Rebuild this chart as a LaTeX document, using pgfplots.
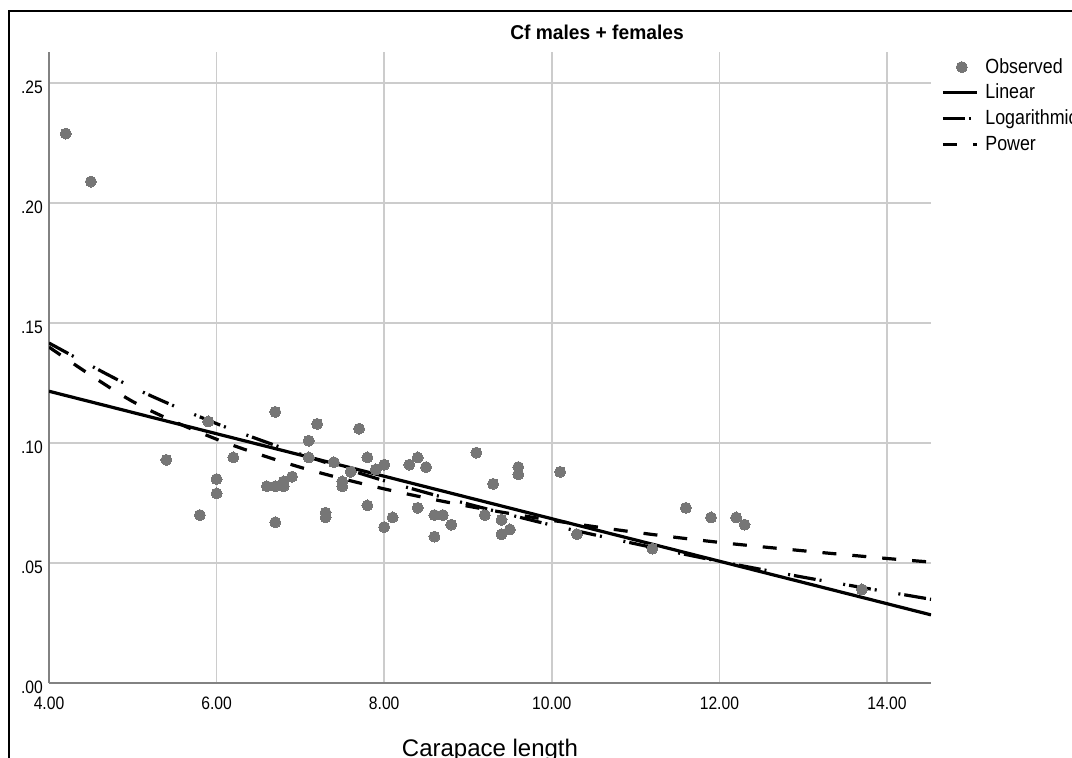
\documentclass[border=0pt]{standalone}
\usepackage{pgfplots}
\pgfplotsset{compat=1.18}
\usepackage{fontspec}
\setmainfont{Liberation Sans}
\newfontfamily\narrowfont[FakeStretch=0.87]{Liberation Sans}
\newfontfamily\titlefont[FakeStretch=0.96]{Liberation Sans Bold}
\definecolor{obsgray}{RGB}{118,118,118}
\definecolor{gridgray}{RGB}{204,204,204}
\definecolor{axisgray}{RGB}{130,130,130}
\pgfplotsset{
    obslegend/.style={legend image code/.code={\draw[##1] plot coordinates {(19bp,0bp)};}},
    linelegend/.style={legend image code/.code={\draw[##1] (0bp,0bp) -- (34bp,0bp);}},
}

\begin{document}
\begin{tikzpicture}
\begin{axis}[
    scale only axis,
    width=882bp, height=631bp,
    at={(49bp,75bp)}, anchor=south west,
    xmin=4, xmax=14.525,
    ymin=0, ymax=0.263,
    axis x line*=bottom, axis y line*=left,
    axis line style={axisgray, line width=2bp, -},
    xtick={4,6,8,10,12,14},
    xticklabels={4.00,6.00,8.00,10.00,12.00,14.00},
    ytick={0,0.05,0.10,0.15,0.20,0.25},
    yticklabels={.00,.05,.10,.15,.20,.25},
    major tick length=0pt,
    grid=major,
    major grid style={gridgray, line width=1.5bp},
    xticklabel style={font=\narrowfont\fontsize{18bp}{20bp}\selectfont, anchor=north, inner sep=0pt, yshift=-14bp},
    yticklabel style={font=\narrowfont\fontsize{18bp}{20bp}\selectfont, anchor=east, inner sep=0pt, xshift=-6bp, yshift=-4bp},
    xlabel={Carapace length},
    xlabel style={font=\fontsize{24bp}{28bp}\selectfont, at={(axis description cs:0.5,0)}, anchor=base, yshift=-73bp},
    legend cell align=left,
    legend style={at={(rel axis cs:1.0113,0.9968)}, anchor=north west,
        draw=none, fill=none, inner sep=0pt, row sep=0pt,
        font=\narrowfont\fontsize{20.5bp}{24bp}\selectfont,
        nodes={inner xsep=0pt, inner ysep=1.85bp, text height=17bp, text depth=5bp},
        /tikz/every odd column/.append style={column sep=7bp}},
]
% observed values
\addplot[only marks, mark=*, mark size=5.5bp,
    mark options={fill=obsgray, draw=obsgray, line width=0pt}, obslegend]
table {
x y
4.2 0.229
4.5 0.209
5.4 0.093
5.8 0.070
5.9 0.109
6.0 0.085
6.0 0.079
6.2 0.094
6.6 0.082
6.7 0.113
6.7 0.082
6.7 0.067
6.8 0.082
6.8 0.084
6.9 0.086
7.1 0.101
7.1 0.094
7.2 0.108
7.3 0.071
7.3 0.069
7.4 0.092
7.5 0.084
7.5 0.082
7.6 0.088
7.7 0.106
7.8 0.094
7.8 0.074
7.9 0.089
8.0 0.091
8.0 0.065
8.1 0.069
8.3 0.091
8.4 0.094
8.4 0.073
8.5 0.090
8.6 0.070
8.6 0.061
8.7 0.070
8.8 0.066
9.1 0.096
9.2 0.070
9.3 0.083
9.4 0.068
9.4 0.062
9.5 0.064
9.6 0.090
9.6 0.087
10.1 0.088
10.3 0.062
11.2 0.056
11.6 0.073
11.9 0.069
12.2 0.069
12.3 0.066
13.7 0.039
};
\addlegendentry{Observed}
% linear fit
\addplot[black, line width=3.2bp, no marks, linelegend]
coordinates {(4,0.1216) (14.525,0.0284)};
\addlegendentry{Linear}
% logarithmic fit
\addplot[black, line width=3.2bp, no marks, smooth,
    dash pattern={on 22bp off 4bp on 2bp off 22bp on 2bp off 4bp}, linelegend]
coordinates {(4,0.1417) (5,0.1232) (6,0.1081) (7,0.0954) (8,0.0843) (9,0.0746)
    (10,0.0658) (11,0.0580) (12,0.0507) (13,0.0441) (14,0.0380) (14.525,0.0349)};
\addlegendentry{Logarithmic}
% power fit
\addplot[black, line width=3.2bp, no marks, smooth,
    dash pattern={on 14bp off 16bp}, linelegend]
coordinates {(4,0.1400) (5,0.1173) (6,0.1016) (7,0.0899) (8,0.0809) (9,0.0737)
    (10,0.0678) (11,0.0628) (12,0.0586) (13,0.0551) (14,0.0519) (14.525,0.0504)};
\addlegendentry{Power}
\end{axis}
\node[anchor=base, font=\titlefont\fontsize{20bp}{24bp}\selectfont] at (597bp,718.7bp) {Cf males + females};
\draw[line width=2.5bp] (9bp,0bp) -- (9bp,747bp) -- (1080bp,747bp);
\pgfresetboundingbox
\useasboundingbox (0bp,0bp) rectangle (1072bp,758bp);
\end{tikzpicture}
\end{document}
